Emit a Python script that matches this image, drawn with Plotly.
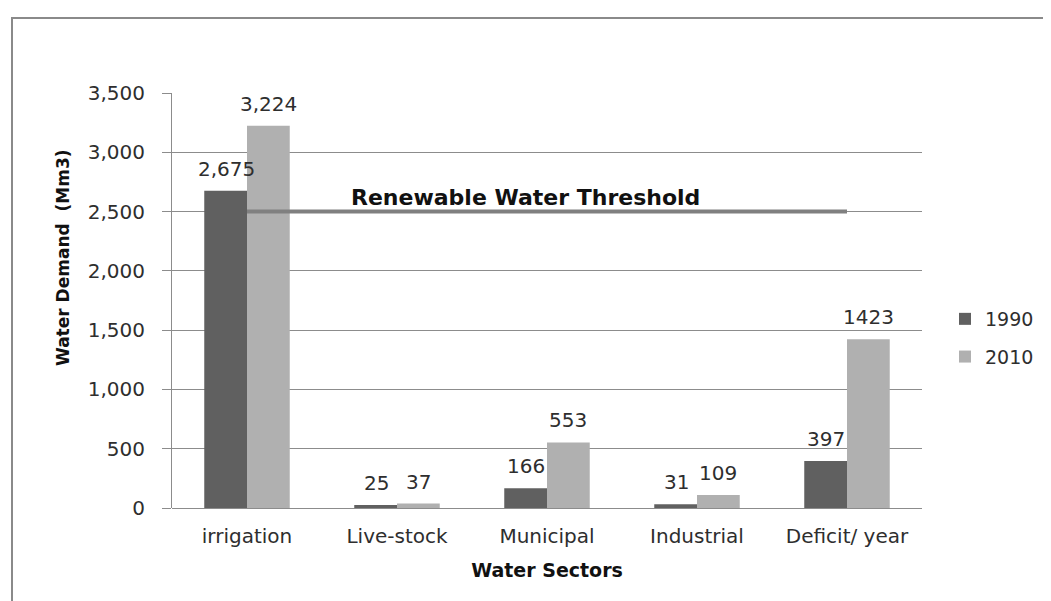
import plotly.graph_objects as go

categories = ["irrigation", "Live-stock", "Municipal", "Industrial", "Deficit/ year"]
values_1990 = [2675, 25, 166, 31, 397]
values_2010 = [3224, 37, 553, 109, 1423]
labels_1990 = ["2,675", "25", "166", "31", "397"]
labels_2010 = ["3,224", "37", "553", "109", "1423"]
threshold = 2500
threshold_label = "Renewable Water Threshold"
y_ticks = [0, 500, 1000, 1500, 2000, 2500, 3000, 3500]
y_ticktext = ["0", "500", "1,000", "1,500", "2,000", "2,500", "3,000", "3,500"]

FONT = "DejaVu Sans"
OFF = 8  # page body margin
W, H = 1051 - OFF, 601 - OFF
ML, MT = 172 - OFF, 93 - OFF
MR = W - (922 - OFF)
MB = H - (508 - OFF)
PW = W - ML - MR
PH = H - MT - MB


def px_x(px):
    return (px - OFF - ML) / PW


def px_y(py):
    return (H - MB - (py - OFF)) / PH


fig = go.Figure()
fig.add_trace(go.Bar(x=categories, y=values_1990, name="1990",
                     marker=dict(color="#606060", line=dict(width=0)),
                     legendgroup="a"))
fig.add_trace(go.Bar(x=categories, y=values_2010, name="2010",
                     marker=dict(color="#b0b0b0", line=dict(width=0)),
                     legendgroup="b"))

# threshold line from first to last category
fig.add_trace(go.Scatter(x=[categories[0], categories[-1]], y=[threshold, threshold],
                         mode="lines", line=dict(color="#808080", width=4),
                         showlegend=False, hoverinfo="skip"))

annotations = []
for i, c in enumerate(categories):
    annotations.append(dict(x=c, y=values_1990[i], xref="x", yref="y", text=labels_1990[i],
                            showarrow=False, xshift=-21, yshift=22,
                            font=dict(family=FONT, size=20, color="#2e2e2e")))
    annotations.append(dict(x=c, y=values_2010[i], xref="x", yref="y", text=labels_2010[i],
                            showarrow=False, xshift=21, yshift=22,
                            font=dict(family=FONT, size=20, color="#2e2e2e")))

annotations.append(dict(x=categories[2], y=threshold, xref="x", yref="y",
                        text="<b>" + threshold_label + "</b>",
                        showarrow=False, xshift=-22, yshift=14,
                        font=dict(family=FONT, size=22, color="#111111")))

annotations.append(dict(x=px_x(63), y=px_y(258), xref="paper", yref="paper",
                        text="<b>Water Demand\u00a0 (Mm3)</b>", textangle=-90,
                        showarrow=False, xanchor="center", yanchor="middle",
                        font=dict(family=FONT, size=17, color="#111111")))

shapes = [dict(type="rect", xref="paper", yref="paper",
               x0=px_x(12), x1=px_x(1080), y0=px_y(640), y1=px_y(18),
               line=dict(color="#8a8a8a", width=2), fillcolor="rgba(0,0,0,0)", layer="below")]

fig.update_layout(
    width=W, height=H,
    margin=dict(l=ML, r=MR, t=MT, b=MB),
    paper_bgcolor="white", plot_bgcolor="white",
    barmode="group", bargap=0.43, bargroupgap=0,
    font=dict(family=FONT, size=18, color="#2e2e2e"),
    legend=dict(x=px_x(945), y=px_y(300), xanchor="left", yanchor="top",
                font=dict(family=FONT, size=19, color="#2e2e2e"),
                tracegroupgap=10, bgcolor="rgba(0,0,0,0)"),
    annotations=annotations,
    shapes=shapes,
)
fig.update_xaxes(showgrid=False, showline=False, ticks="",
                 tickfont=dict(family=FONT, size=20, color="#2e2e2e"),
                 ticklabelstandoff=14,
                 title=dict(text="<b>Water Sectors</b>", standoff=16,
                            font=dict(family=FONT, size=19, color="#111111")))
fig.update_yaxes(range=[0, 3500], tickvals=y_ticks, ticktext=y_ticktext,
                 showgrid=True, gridcolor="#8c8c8c", gridwidth=1,
                 zeroline=True, zerolinecolor="#8c8c8c", zerolinewidth=1,
                 showline=True, linecolor="#8c8c8c", linewidth=1,
                 ticks="outside", ticklen=9, tickcolor="#8c8c8c",
                 ticklabelstandoff=13,
                 tickfont=dict(family=FONT, size=20, color="#2e2e2e"))

fig.write_html("out.html")
